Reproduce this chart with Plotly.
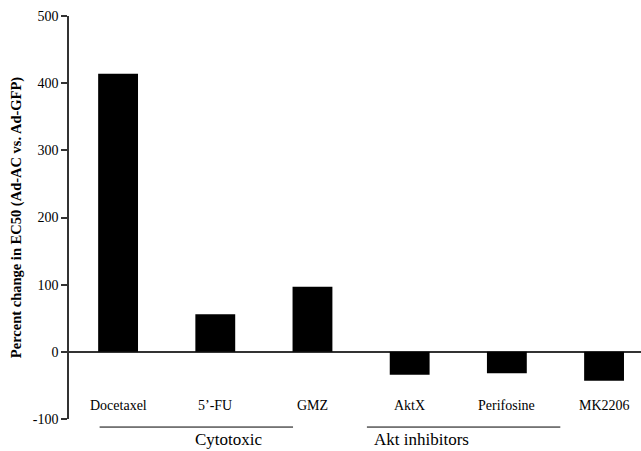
import plotly.graph_objects as go

categories = ["Docetaxel", "5\u2019-FU", "GMZ", "AktX", "Perifosine", "MK2206"]
values = [414, 56, 97, -34, -32, -43]
groups = ["Cytotoxic", "Akt inhibitors"]
group_spans = [(-0.19, 1.8), (2.56, 4.55)]
group_label_shift = [-3, 7]
ytick_vals = [-100, 0, 100, 200, 300, 400, 500]
ytick_text = ["-100", "0", "100", "200", "300", "400", "500"]

xpos = list(range(len(categories)))
xmin, xmax = -0.505, 5.38
ymin, ymax = -100, 500

font = "Liberation Serif, Times New Roman, serif"

fig = go.Figure()
fig.add_trace(go.Bar(x=xpos, y=values, width=0.41,
                     marker=dict(color="black", line=dict(width=0))))

annotations = []
for x, c in zip(xpos, categories):
    annotations.append(dict(x=x, y=-80, xref="x", yref="y", text=c, showarrow=False,
                            yanchor="middle",
                            font=dict(family=font, size=14, color="black")))
shapes = []
for g, (a, b), sh in zip(groups, group_spans, group_label_shift):
    pa = (a - xmin) / (xmax - xmin)
    pb = (b - xmin) / (xmax - xmin)
    shapes.append(dict(type="line", xref="paper", yref="paper", x0=pa, x1=pb,
                       y0=-0.02, y1=-0.02, line=dict(color="black", width=1)))
    annotations.append(dict(x=(pa + pb) / 2, y=-0.052, xref="paper", yref="paper",
                            text=g, showarrow=False, yanchor="middle", xshift=sh,
                            font=dict(family=font, size=17, color="black")))

fig.update_layout(
    width=641, height=451,
    margin=dict(l=69, r=0, t=16, b=32),
    paper_bgcolor="white", plot_bgcolor="white",
    showlegend=False,
    font=dict(family=font, color="black"),
    xaxis=dict(range=[xmin, xmax], showticklabels=False, showgrid=False,
               zeroline=False, showline=False, ticks=""),
    yaxis=dict(range=[ymin, ymax], tickvals=ytick_vals, ticktext=ytick_text,
               showgrid=False, zeroline=True, zerolinecolor="#333", zerolinewidth=1.5,
               showline=True, linecolor="#333", linewidth=1.5,
               ticks="outside", ticklen=6, tickcolor="#333", tickwidth=1.5,
               tickfont=dict(family=font, size=14, color="black"),
               title=dict(text="<b>Percent change in EC50 (Ad-AC vs. Ad-GFP)</b>",
                          font=dict(family=font, size=14.5, color="black"), standoff=8)),
    annotations=annotations, shapes=shapes,
)

fig.write_html("out.html", config={"displayModeBar": False},
               post_script="document.body.style.margin='0';document.body.style.overflow='hidden';")
